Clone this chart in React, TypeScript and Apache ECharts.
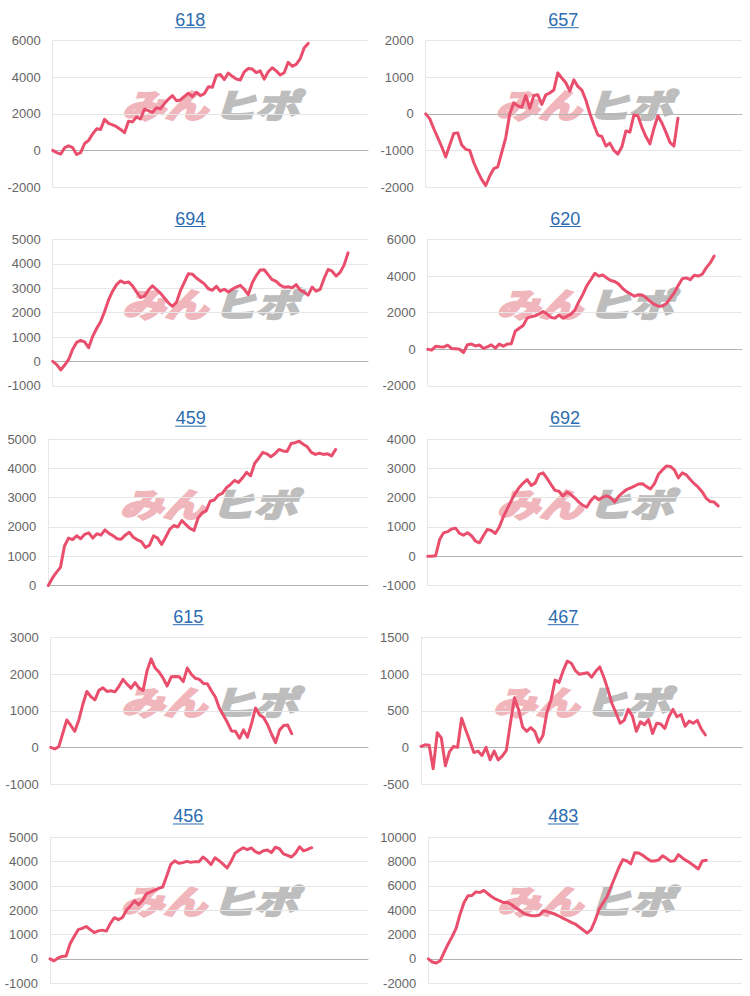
import React, { useEffect, useRef } from "react";
import * as echarts from "echarts";

// ---- data ----
const categories = Array.from({ length: 80 }, (_, i) => `${i + 1}`);
const titles = ["618", "657", "694", "620", "459", "692", "615", "467", "456", "483"];
const yMin = [-2000, -2000, -1000, -2000, 0, -1000, -1000, -500, -1000, -2000];
const yMax = [6000, 2000, 5000, 6000, 5000, 4000, 3000, 1500, 5000, 10000];
const yInterval = [2000, 1000, 1000, 2000, 1000, 1000, 1000, 500, 1000, 2000];

const s618 = [0, -120, -200, 150, 250, 150, -220, -120, 380, 550, 900, 1180, 1150, 1700, 1480, 1400, 1300, 1150, 970, 1600, 1560, 1830, 1720, 2260, 2180, 2080, 2330, 2280, 2560, 2800, 3000, 2720, 2760, 2950, 3130, 2950, 3180, 3000, 3100, 3480, 3450, 4100, 4150, 3880, 4230, 4050, 3900, 3850, 4300, 4480, 4450, 4250, 4350, 3900, 4300, 4520, 4350, 4120, 4250, 4820, 4600, 4700, 5000, 5600, 5850];
const s657 = [0, -130, -400, -650, -900, -1180, -850, -540, -520, -850, -970, -1000, -1330, -1580, -1800, -1960, -1700, -1500, -1450, -1050, -650, 0, 300, 220, 180, 500, 150, 500, 520, 260, 520, 570, 650, 1120, 980, 850, 620, 930, 750, 650, 380, 10, -300, -580, -620, -880, -800, -1000, -1100, -900, -470, -500, -30, -50, -370, -620, -820, -400, -50, -250, -500, -780, -880, -120];
const s694 = [0, -130, -350, -150, 80, 500, 780, 860, 800, 560, 1020, 1350, 1630, 2050, 2520, 2880, 3150, 3300, 3220, 3260, 3100, 2850, 2620, 2680, 2930, 3100, 2950, 2800, 2600, 2400, 2260, 2420, 2900, 3250, 3600, 3580, 3420, 3300, 3180, 2980, 2920, 3080, 2880, 2960, 2850, 2960, 3050, 3120, 2960, 2740, 3220, 3520, 3750, 3760, 3550, 3350, 3280, 3130, 3040, 3060, 3020, 3150, 2920, 2840, 2720, 3050, 2880, 2950, 3400, 3770, 3700, 3500, 3650, 3950, 4450];
const s620 = [0, -50, 160, 130, 120, 220, 40, 20, 0, -180, 250, 280, 180, 230, 50, 130, 240, 60, 280, 170, 280, 300, 980, 1150, 1300, 1700, 1780, 1830, 1920, 2060, 1920, 1740, 1700, 1870, 1700, 1800, 1920, 2150, 2600, 3000, 3480, 3800, 4150, 4000, 4060, 3900, 3760, 3700, 3560, 3320, 3150, 3020, 2900, 2980, 2960, 2800, 2600, 2450, 2350, 2360, 2500, 2790, 3100, 3500, 3850, 3900, 3800, 4050, 4000, 4100, 4450, 4720, 5100];
const s459 = [0, 250, 450, 620, 1350, 1620, 1570, 1700, 1600, 1750, 1800, 1620, 1770, 1720, 1900, 1780, 1700, 1600, 1580, 1720, 1820, 1650, 1560, 1500, 1300, 1380, 1700, 1620, 1400, 1650, 1920, 2050, 2000, 2220, 2080, 1950, 1880, 2300, 2480, 2550, 2880, 2920, 3090, 3150, 3340, 3450, 3590, 3520, 3680, 3870, 3750, 4180, 4350, 4550, 4500, 4400, 4500, 4650, 4600, 4580, 4850, 4880, 4930, 4830, 4740, 4550, 4480, 4520, 4480, 4500, 4430, 4650];
const s692 = [0, 0, 20, 570, 800, 840, 930, 960, 780, 720, 800, 700, 520, 460, 700, 920, 880, 780, 1000, 1350, 1620, 1900, 2150, 2350, 2500, 2620, 2420, 2500, 2800, 2850, 2660, 2450, 2250, 2220, 2050, 2190, 2110, 1990, 1850, 1740, 1680, 1900, 2040, 1930, 2020, 2060, 2000, 1850, 2050, 2170, 2280, 2340, 2400, 2470, 2480, 2380, 2300, 2480, 2800, 2950, 3080, 3070, 2950, 2680, 2850, 2780, 2620, 2480, 2360, 2200, 1980, 1870, 1850, 1720];
const s615 = [0, -40, 20, 380, 750, 600, 440, 750, 1180, 1530, 1390, 1300, 1560, 1630, 1530, 1550, 1520, 1670, 1860, 1730, 1620, 1770, 1620, 1560, 2100, 2420, 2170, 2060, 1890, 1680, 1930, 1940, 1930, 1800, 2170, 2000, 1890, 1860, 1750, 1740, 1550, 1380, 1070, 880, 680, 450, 440, 250, 480, 280, 650, 1080, 890, 820, 620, 360, 130, 480, 600, 610, 380];
const s467 = [15, 35, 30, -290, 200, 130, -250, -60, 15, 0, 400, 240, 90, -70, -50, -110, 0, -170, -50, -170, -120, -40, 330, 680, 520, 280, 220, 270, 220, 70, 160, 480, 650, 920, 890, 1050, 1180, 1150, 1050, 1000, 1010, 1020, 960, 1040, 1100, 960, 790, 600, 470, 330, 370, 520, 430, 220, 350, 310, 380, 190, 330, 320, 260, 420, 520, 420, 450, 290, 360, 330, 370, 250, 170];
const s456 = [0, -80, 40, 100, 120, 620, 920, 1200, 1250, 1330, 1200, 1080, 1150, 1180, 1140, 1460, 1690, 1610, 1700, 2000, 2170, 2380, 2220, 2400, 2680, 2750, 2820, 2890, 2950, 3400, 3880, 4020, 3920, 3950, 4000, 3960, 3990, 3980, 4180, 4050, 3870, 4150, 4030, 3890, 3730, 4000, 4340, 4460, 4560, 4480, 4550, 4400, 4330, 4440, 4470, 4360, 4580, 4520, 4310, 4250, 4180, 4340, 4600, 4430, 4490, 4560];
const s483 = [0, -250, -340, -150, 550, 1230, 1830, 2500, 3670, 4630, 5180, 5200, 5500, 5450, 5620, 5350, 5100, 4900, 4760, 4620, 4620, 4440, 4200, 4000, 3750, 3620, 3550, 3540, 3600, 3950, 3880, 3770, 3660, 3500, 3330, 3170, 3000, 2860, 2620, 2370, 2120, 2400, 3150, 4050, 4580, 5100, 5900, 6700, 7500, 8150, 8030, 7800, 8700, 8680, 8500, 8250, 8030, 8030, 8120, 8450, 8250, 8000, 8050, 8550, 8280, 8060, 7860, 7620, 7380, 8030, 8100];

const seriesData = [s618, s657, s694, s620, s459, s692, s615, s467, s456, s483];

// ---- layout ----
const LEFTS = [52.7, 425.7, 52.7, 427.7, 48.3, 427.7, 50.7, 421, 50, 428.3];
const RIGHTS = [368, 742];
const TOPS = [40.7, 239.5, 439.2, 637.7, 837];
const GRID_H = 146.3;
const TITLE_X = [190.3, 563.3, 190.3, 565.3, 190.7, 565, 188.3, 563.3, 188.3, 563.3];

const LINE_COLOR = "#e94f6d";
const TITLE_COLOR = "#2b6cb0";
const FONT = "'Liberation Sans', Arial, sans-serif";
const CJK = "'Noto Sans CJK JP', sans-serif";

export default function App() {
  const ref = useRef<HTMLDivElement>(null);

  useEffect(() => {
    document.body.style.margin = "0";
    const chart = echarts.init(ref.current!, null, { renderer: "svg" });

    const grids: any[] = [];
    const xAxes: any[] = [];
    const yAxes: any[] = [];
    const series: any[] = [];
    const graphics: any[] = [];

    titles.forEach((t, k) => {
      const col = k % 2;
      const row = Math.floor(k / 2);
      const left = LEFTS[k];
      const right = RIGHTS[col];
      const top = TOPS[row];
      grids.push({ left, top, width: right - left, height: GRID_H, containLabel: false });
      xAxes.push({
        type: "category",
        gridIndex: k,
        data: categories,
        boundaryGap: false,
        axisLabel: { show: false },
        axisTick: { show: false },
        axisLine: { show: true, onZero: true, lineStyle: { color: "#b3b3b3", width: 1 } },
        splitLine: { show: false },
      });
      yAxes.push({
        type: "value",
        gridIndex: k,
        min: yMin[k],
        max: yMax[k],
        interval: yInterval[k],
        axisLine: { show: true, lineStyle: { color: "#e6e6e6" } },
        axisTick: { show: false },
        splitLine: { show: true, lineStyle: { color: "#e6e6e6", width: 1 } },
        axisLabel: {
          color: "#666",
          fontSize: 13,
          fontFamily: FONT,
          margin: 12,
          formatter: (v: number) => String(v),
        },
      });
      series.push({
        type: "line",
        xAxisIndex: k,
        yAxisIndex: k,
        data: seriesData[k],
        showSymbol: false,
        symbol: "none",
        lineStyle: { color: LINE_COLOR, width: 3, join: "round", cap: "round" },
        itemStyle: { color: LINE_COLOR },
        z: 5,
      });

      const tx = TITLE_X[k];
      const ty = top - 21;
      graphics.push({
        type: "text",
        x: tx,
        y: ty,
        z: 10,
        style: {
          text: t,
          fill: TITLE_COLOR,
          fontSize: 18,
          fontFamily: FONT,
          align: "center",
          verticalAlign: "middle",
        },
      });
      graphics.push({
        type: "line",
        z: 10,
        shape: { x1: tx - 15.5, y1: ty + 8, x2: tx + 15.5, y2: ty + 8 },
        style: { stroke: TITLE_COLOR, lineWidth: 1 },
      });

      const cx = (left + right) / 2;
      const cy = top + GRID_H / 2 - 10;
      const pink = "#f0b6bc";
      const gray = "#bdbdbd";
      graphics.push({
        type: "group",
        x: cx,
        y: cy,
        scaleX: 1.3,
        z: 1,
        silent: true,
        children: [
          {
            type: "text",
            x: -2,
            y: 0,
            style: {
              text: "みん",
              fill: pink,
              stroke: pink,
              lineWidth: 2.5,
              fontSize: 33,
              fontWeight: "bold",
              fontStyle: "italic",
              fontFamily: CJK,
              align: "right",
              verticalAlign: "middle",
            },
          },
          {
            type: "text",
            x: 2,
            y: 0,
            style: {
              text: "ヒポ",
              fill: gray,
              stroke: gray,
              lineWidth: 2.5,
              fontSize: 33,
              fontWeight: "bold",
              fontStyle: "italic",
              fontFamily: CJK,
              align: "left",
              verticalAlign: "middle",
            },
          },
        ],
      });
    });

    chart.setOption({
      animation: false,
      backgroundColor: "#ffffff",
      grid: grids,
      xAxis: xAxes,
      yAxis: yAxes,
      series,
      graphic: { elements: graphics },
    });

    return () => {
      chart.dispose();
    };
  }, []);

  return <div ref={ref} style={{ width: 750, height: 996 }} />;
}
